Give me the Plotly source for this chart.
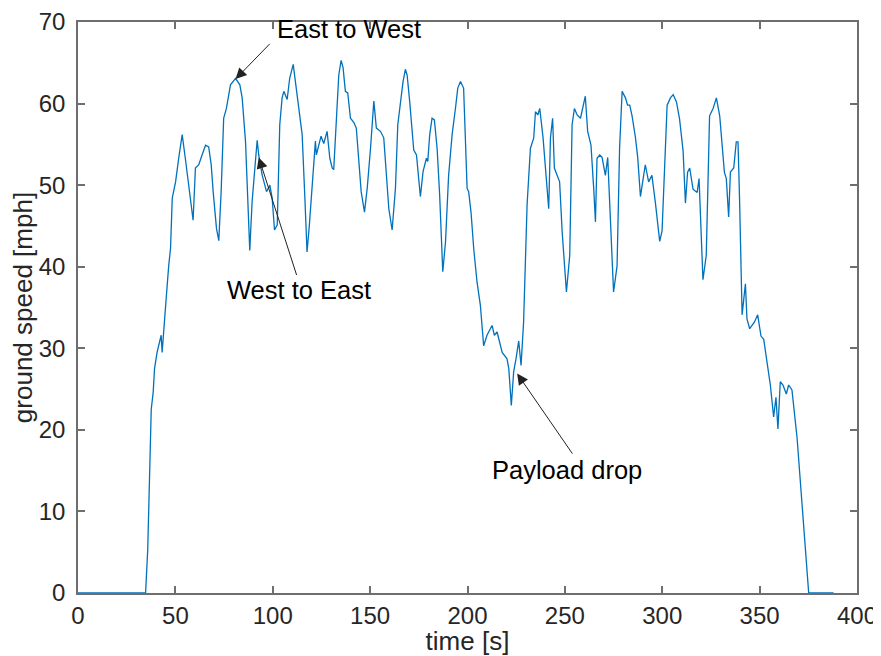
import plotly.graph_objects as go

# time [s]
time_s = [0, 34.7, 35.8, 36.9, 37.6, 38.6, 39.3, 40.6, 42.0, 42.7, 43.2, 44.4, 45.4, 46.6, 47.5,
          48.4, 50.1, 51.7, 53.5, 55.1, 56.9, 57.8, 59.1, 60.3, 62.0, 63.7, 65.5, 67.1, 68.4,
          69.4, 70.1, 71.1, 72.3, 73.5, 74.8, 76.2, 78.3, 80.9, 83.1, 84.3, 86.0, 87.2, 88.2,
          89.4, 91.1, 92.0, 92.8, 94.6, 96.8, 98.5, 99.7, 100.9, 102.3, 103.6, 104.8, 105.7,
          107.4, 108.7, 110.5, 112.5, 115.1, 116.5, 117.6, 118.8, 120.2, 121.9, 122.4, 123.6,
          124.8, 126.2, 127.9, 129.3, 130.5, 131.3, 132.7, 133.9, 135.1, 136.1, 137.3, 138.5,
          139.9, 141.6, 142.9, 144.2, 145.4, 147.1, 148.5, 150.2, 151.9, 153.2, 155.3, 157.0,
          158.4, 159.6, 161.3, 163.0, 164.2, 165.6, 166.9, 168.1, 169.0, 170.3, 171.6, 172.4,
          173.8, 174.9, 175.8, 177.2, 178.9, 179.6, 180.6, 181.8, 183.0, 184.4, 185.7, 187.3,
          188.7, 190.3, 192.1, 193.8, 195.0, 196.4, 198.0, 199.8, 200.6, 201.8, 203.2, 204.9,
          206.6, 208.3, 210.0, 212.6, 213.8, 215.2, 217.8, 220.3, 221.2, 222.5, 223.7, 224.9,
          226.3, 227.5, 228.8, 230.6, 232.3, 234.0, 234.9, 236.1, 237.1, 238.8, 240.9, 241.7,
          242.6, 243.7, 244.6, 246.0, 247.3, 248.6, 250.8, 252.5, 253.7, 254.9, 256.3, 258.0,
          259.7, 260.5, 261.7, 263.4, 264.8, 265.7, 266.5, 267.9, 269.1, 270.8, 272.0, 273.0,
          275.0, 276.8, 278.1, 279.4, 281.1, 282.2, 283.3, 284.5, 286.2, 287.4, 288.8, 290.2,
          291.3, 293.0, 294.7, 296.5, 298.7, 299.9, 301.1, 302.5, 304.2, 305.6, 307.3, 308.9,
          310.7, 311.9, 313.0, 314.1, 315.8, 317.9, 318.9, 319.6, 320.9, 322.6, 324.3, 326.1,
          327.8, 329.5, 330.7, 331.9, 332.9, 334.1, 335.0, 336.7, 338.0, 338.9, 339.7, 341.0,
          342.7, 343.5, 344.9, 347.3, 349.0, 350.7, 352.1, 353.8, 355.5, 357.2, 358.4, 359.4,
          360.6, 362.0, 363.7, 364.9, 366.6, 369.2, 370.9, 375.2, 388.0]

# ground speed [mph]
speed_mph = [0, 0, 5.3, 17.6, 22.5, 24.6, 27.5, 29.5, 31.1, 31.6, 29.5, 34.0, 36.5, 40.2, 42.2,
             48.4, 50.4, 53.3, 56.2, 53.3, 50.0, 48.4, 45.7, 52.1, 52.5, 53.7, 54.9, 54.7, 52.5,
             49.2, 47.1, 44.7, 43.2, 49.2, 58.2, 59.4, 62.3, 63.1, 62.3, 60.7, 55.4, 47.1, 42.0,
             48.0, 53.3, 55.5, 53.7, 51.2, 49.2, 50.0, 48.4, 44.5, 45.1, 57.4, 60.7, 61.5,
             60.5, 63.1, 64.8, 61.1, 56.2, 48.4, 41.8, 45.1, 49.6, 55.4, 53.7, 54.9,
             56.0, 55.1, 56.6, 53.3, 52.1, 51.9, 58.2, 63.5, 65.3, 64.4, 61.5, 61.3,
             58.2, 57.7, 57.0, 53.3, 49.2, 46.7, 49.6, 54.5, 60.3, 57.0, 56.6, 55.8,
             50.4, 47.1, 44.5, 49.6, 57.4, 60.3, 62.7, 64.2, 63.5, 60.3, 57.0, 54.3,
             53.7, 50.4, 48.6, 51.7, 53.3, 52.9, 56.2, 58.2, 58.0, 54.5, 48.8, 39.4,
             43.0, 51.2, 56.2, 59.4, 61.9, 62.7, 61.9, 49.6, 49.2, 46.7, 42.2, 38.1,
             35.3, 30.3, 31.6, 32.8, 31.6, 32.0, 29.5, 28.7, 27.5, 23.0, 27.1, 28.7,
             30.9, 27.9, 33.2, 47.6, 54.5, 55.8, 59.0, 58.6, 59.4, 55.8, 49.6, 47.1,
             55.8, 58.2, 52.1, 51.2, 50.4, 44.3, 36.9, 41.4, 57.4, 59.4, 58.6, 58.2,
             59.9, 60.9, 56.6, 54.9, 49.6, 45.5, 53.3, 53.7, 53.4, 51.2, 53.4, 47.4,
             36.9, 40.1, 54.6, 61.5, 60.7, 59.8, 59.8, 58.5, 55.9, 53.4, 48.6, 50.8,
             52.5, 50.4, 51.2, 47.8, 43.1, 44.4, 52.5, 59.8, 60.7, 61.1, 60.2, 58.1,
             54.2, 47.8, 51.6, 52.1, 49.5, 49.1, 50.8, 46.1, 38.4, 41.4, 58.5, 59.4,
             60.7, 58.5, 54.6, 51.6, 50.8, 46.1, 51.6, 52.1, 55.3, 55.3, 48.2, 34.1,
             37.9, 33.6, 32.4, 33.2, 34.1, 31.5, 31.1, 28.5, 25.5, 21.6, 24.0, 20.1,
             25.9, 25.5, 24.4, 25.5, 24.9, 19.1, 13.9, 0, 0]

# annotations: label, text centre (t, v), arrow tail (t, v), arrow head (t, v)
ann_labels = ["East to West", "West to East", "Payload drop"]
ann_text_t = [139.4, 113.4, 251.3]
ann_text_v = [69.2, 37.1, 15.1]
ann_tail_t = [99.2, 112.5, 254.4]
ann_tail_v = [67.5, 38.8, 16.9]
ann_head_t = [80.9, 92.8, 225.5]
ann_head_v = [63.0, 53.4, 26.9]

x_ticks = [0, 50, 100, 150, 200, 250, 300, 350, 400]
y_ticks = [0, 10, 20, 30, 40, 50, 60, 70]

FONT = "Liberation Sans, Arial, Helvetica, sans-serif"
TXT = "#262626"
AX = "#6e6e6e"

fig = go.Figure()
fig.add_trace(go.Scatter(x=time_s, y=speed_mph, mode="lines",
                         line=dict(color="#0072BD", width=1.3), showlegend=False,
                         hoverinfo="x+y"))

for i, lab in enumerate(ann_labels):
    fig.add_annotation(x=ann_head_t[i], y=ann_head_v[i], xref="x", yref="y",
                       ax=ann_tail_t[i], ay=ann_tail_v[i], axref="x", ayref="y",
                       text="", showarrow=True, arrowhead=2, arrowsize=2.2,
                       arrowwidth=1, arrowcolor="#222222")
    fig.add_annotation(x=ann_text_t[i], y=ann_text_v[i], xref="x", yref="y",
                       text=lab, showarrow=False,
                       font=dict(family=FONT, size=25.5, color="#000000"))

axis_common = dict(showgrid=False, zeroline=False, showline=True, linecolor=AX,
                   linewidth=1.5, mirror="ticks", ticks="inside", ticklen=7,
                   tickwidth=1.5, tickcolor=AX,
                   tickfont=dict(family=FONT, size=24, color=TXT))

fig.update_xaxes(range=[0, 400], tickvals=x_ticks, ticktext=[str(v) for v in x_ticks],
                 title=dict(text="time [s]", font=dict(family=FONT, size=26, color=TXT),
                            standoff=0),
                 **axis_common)
fig.update_yaxes(range=[0, 70], tickvals=y_ticks, ticktext=[str(v) for v in y_ticks],
                 title=dict(text="ground speed [mph]",
                            font=dict(family=FONT, size=26, color=TXT), standoff=2),
                 ticklabelstandoff=6,
                 **axis_common)

# page body has an 8px margin: shift plot area accordingly
fig.update_layout(width=873, height=648,
                  margin=dict(l=70, r=24, t=14, b=63, autoexpand=False),
                  plot_bgcolor="white", paper_bgcolor="white")

fig.write_html("out.html")
